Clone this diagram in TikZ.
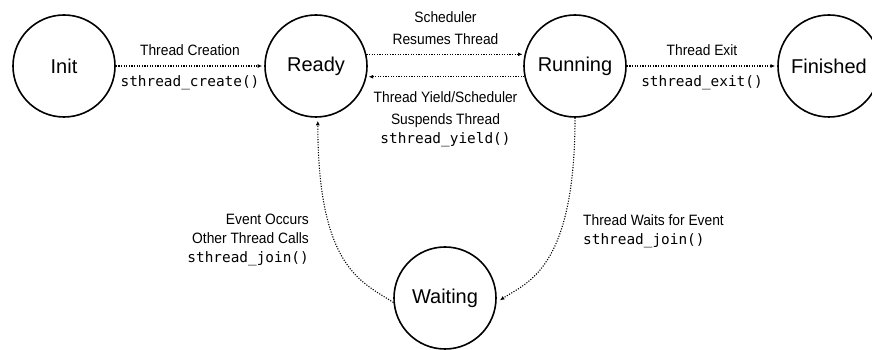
\documentclass[tikz,border=0pt]{standalone}
\usepackage{fontspec}
\setmainfont{Liberation Sans}
\newfontfamily\lblfont{Liberation Sans}[FakeStretch=0.92]
\newfontfamily\codefont{DejaVu Sans Mono}
\usetikzlibrary{arrows.meta}
\newcommand\fncode[1]{{\codefont\fontsize{14.4}{19}\selectfont #1}}

\begin{document}
\begin{tikzpicture}[x=1pt,y=1pt,
    state/.style={circle,draw,line width=1.6pt,minimum size=102pt,inner sep=0pt,font=\fontsize{20}{24}\selectfont},
    trans/.style={line width=1.1pt,dash pattern=on 1.1pt off 1.5pt,-{Latex[length=4.5pt,width=4pt]},shorten >=2pt},
    lbl/.style={inner sep=0pt,align=center,font=\lblfont\fontsize{15}{22.5}\selectfont},
    codelbl/.style={inner sep=0pt,font=\codefont\fontsize{14.4}{19}\selectfont}]
  \useasboundingbox (0,0) rectangle (872,350);

  % states
  \node[state] (init) at (64,284) {Init};
  \node[state] (ready) at (316,284) {Ready};
  \node[state] (running) at (575,284) {Running};
  \node[state] (finished) at (829,284) {Finished};
  \node[state] (waiting) at (445,52) {Waiting};

  % transitions
  \draw[trans] (init) -- (ready)
    node[lbl,midway,above=10pt] (creation) {Thread Creation}
    node[codelbl,midway,below=9pt] (create) {sthread\_create()};
  \draw[trans] (ready.13) -- (running.167)
    node[lbl,midway,above=9pt] (resumes) {Scheduler\\Resumes Thread};
  \draw[trans] (running.192) -- (ready.-12)
    node[lbl,midway,below=14pt] (suspends) {Thread Yield/Scheduler\\Suspends Thread\\[-3.5pt]\fncode{sthread\_yield()}};
  \draw[trans] (running) -- (finished)
    node[lbl,midway,above=10pt] (exit) {Thread Exit}
    node[codelbl,midway,below=9pt] (exitcall) {sthread\_exit()};
  \draw[trans,shorten >=4pt] (running.south) .. controls +(0,-152) and +(30,20) .. (waiting.-5);
  \draw[trans,shorten >=3pt] (waiting.185) .. controls +(-30,20) and +(0,-152) .. (ready.-88);

  \node[lbl,align=right,anchor=north east,font=\lblfont\fontsize{15}{18.7}\selectfont] (occurs) at (309,136)
    {Event Occurs\\Other Thread Calls\\\fncode{sthread\_join()}};
  \node[lbl,align=left,anchor=north west] (waits) at (583,136)
    {Thread Waits for Event\\[-3.5pt]\fncode{sthread\_join()}};
\end{tikzpicture}
\end{document}
